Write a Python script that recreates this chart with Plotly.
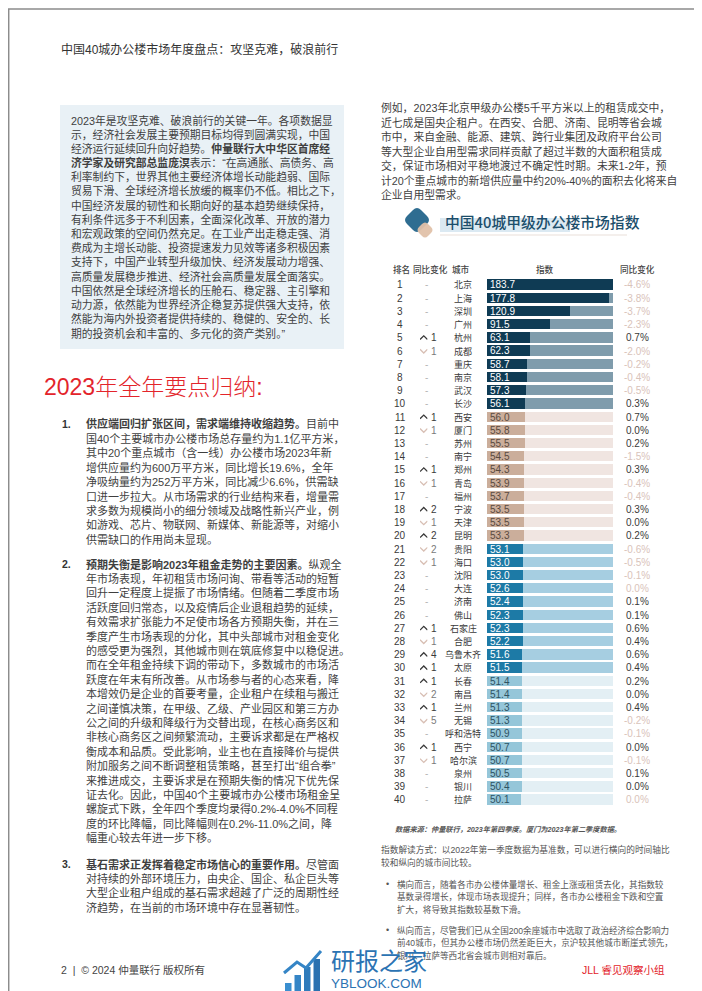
import plotly.graph_objects as go
import math

W, H = 702, 991
FONT = "Liberation Sans, Noto Sans CJK SC, sans-serif"
CJK = "Noto Sans CJK SC, sans-serif"

# ---------------- data ----------------
ranks = list(range(1, 41))
cities = ["北京", "上海", "深圳", "广州", "杭州", "成都", "重庆", "南京", "武汉", "长沙",
          "西安", "厦门", "苏州", "南宁", "郑州", "青岛", "福州", "宁波", "天津", "昆明",
          "贵阳", "海口", "沈阳", "大连", "济南", "佛山", "石家庄", "合肥", "乌鲁木齐", "太原",
          "长春", "南昌", "兰州", "无锡", "呼和浩特", "西宁", "哈尔滨", "泉州", "银川", "拉萨"]
index_values = [183.7, 177.8, 120.9, 91.5, 63.1, 62.3, 58.7, 58.1, 57.3, 56.1,
                56.0, 55.8, 55.5, 54.5, 54.3, 53.9, 53.7, 53.5, 53.5, 53.3,
                53.1, 53.0, 53.0, 52.6, 52.4, 52.3, 52.3, 52.2, 51.6, 51.5,
                51.4, 51.4, 51.3, 51.3, 50.9, 50.7, 50.7, 50.5, 50.4, 50.1]
rank_change = [0, 0, 0, 0, 1, -1, 0, 0, 0, 0,
               1, -1, 0, 0, 1, -1, 0, 2, -1, 2,
               -2, -1, 0, 0, 0, 0, 1, -1, 4, 1,
               1, -2, 1, -5, 0, 1, -1, 0, 0, 0]
yoy_change = [-4.6, -3.8, -3.7, -2.3, 0.7, -2.0, -0.2, -0.4, -0.5, 0.3,
              0.7, 0.0, 0.2, -1.5, 0.3, -0.4, -0.4, 0.3, 0.0, 0.2,
              -0.6, -0.5, -0.1, -0.0, 0.1, 0.1, 0.6, 0.4, 0.6, 0.4,
              0.2, 0.0, 0.4, -0.2, -0.1, 0.0, -0.1, 0.1, 0.0, -0.0]
headers = ["排名", "同比变化", "城市", "指数", "同比变化"]

bar_colors = ["#0f3b54", "#cbae9b", "#1d7aa6", "#95c6d9"]
track_colors = ["#7f9cac", "#f0e5e1", "#a6cee1", "#e3eff4"]
label_colors = ["#ffffff", "#5a4a40", "#ffffff", "#2e5262"]

header_line = "中国40城办公楼市场年度盘点：攻坚克难，破浪前行"
box_lines = [
    "2023年是攻坚克难、破浪前行的关键一年。各项数据显",
    "示，经济社会发展主要预期目标均得到圆满实现，中国",
    "经济运行延续回升向好趋势。<b>仲量联行大中华区首席经</b>",
    "<b>济学家及研究部总监庞溟</b>表示：“在高通胀、高债务、高",
    "利率制约下，世界其他主要经济体增长动能趋弱、国际",
    "贸易下滑、全球经济增长放缓的概率仍不低。相比之下，",
    "中国经济发展的韧性和长期向好的基本趋势继续保持，",
    "有利条件远多于不利因素，全面深化改革、开放的潜力",
    "和宏观政策的空间仍然充足。在工业产出走稳走强、消",
    "费成为主增长动能、投资提速发力见效等诸多积极因素",
    "支持下，中国产业转型升级加快、经济发展动力增强、",
    "高质量发展稳步推进、经济社会高质量发展全面落实。",
    "中国依然是全球经济增长的压舱石、稳定器、主引擎和",
    "动力源，依然能为世界经济企稳复苏提供强大支持，依",
    "然能为海内外投资者提供持续的、稳健的、安全的、长",
    "期的投资机会和丰富的、多元化的资产类别。”",
]
section_title = "2023年全年要点归纳:"
item1 = [
    "<b>供应端回归扩张区间，需求端维持收缩趋势。</b>目前中",
    "国40个主要城市办公楼市场总存量约为1.1亿平方米，",
    "其中20个重点城市（含一线）办公楼市场2023年新",
    "增供应量约为600万平方米，同比增长19.6%，全年",
    "净吸纳量约为252万平方米，同比减少6.6%，供需缺",
    "口进一步拉大。从市场需求的行业结构来看，增量需",
    "求多数为规模尚小的细分领域及战略性新兴产业，例",
    "如游戏、芯片、物联网、新媒体、新能源等，对缩小",
    "供需缺口的作用尚未显现。",
]
item2 = [
    "<b>预期失衡是影响2023年租金走势的主要因素。</b>纵观全",
    "年市场表现，年初租赁市场问询、带看等活动的短暂",
    "回升一定程度上提振了市场情绪。但随着二季度市场",
    "活跃度回归常态，以及疫情后企业退租趋势的延续，",
    "有效需求扩张能力不足使市场各方预期失衡，并在三",
    "季度产生市场表现的分化，其中头部城市对租金变化",
    "的感受更为强烈，其他城市则在筑底修复中以稳促进。",
    "而在全年租金持续下调的带动下，多数城市的市场活",
    "跃度在年末有所改善。从市场参与者的心态来看，降",
    "本增效仍是企业的首要考量，企业租户在续租与搬迁",
    "之间谨慎决策，在甲级、乙级、产业园区和第三方办",
    "公之间的升级和降级行为交替出现，在核心商务区和",
    "非核心商务区之间频繁流动，主要诉求都是在严格权",
    "衡成本和品质。受此影响，业主也在直接降价与提供",
    "附加服务之间不断调整租赁策略，甚至打出“组合拳”",
    "来推进成交，主要诉求是在预期失衡的情况下优先保",
    "证去化。因此，中国40个主要城市办公楼市场租金呈",
    "螺旋式下跌，全年四个季度均录得0.2%-4.0%不同程",
    "度的环比降幅，同比降幅则在0.2%-11.0%之间，降",
    "幅重心较去年进一步下移。",
]
item3 = [
    "<b>基石需求正发挥着稳定市场信心的重要作用。</b>尽管面",
    "对持续的外部环境压力，由央企、国企、私企巨头等",
    "大型企业租户组成的基石需求超越了广泛的周期性经",
    "济趋势，在当前的市场环境中存在显著韧性。",
]
right_lines = [
    "例如，2023年北京甲级办公楼5千平方米以上的租赁成交中，",
    "近七成是国央企租户。在西安、合肥、济南、昆明等省会城",
    "市中，来自金融、能源、建筑、跨行业集团及政府平台公司",
    "等大型企业自用型需求同样贡献了超过半数的大面积租赁成",
    "交，保证市场相对平稳地渡过不确定性时期。未来1-2年，预",
    "计20个重点城市的新增供应量中约20%-40%的面积去化将来自",
    "企业自用型需求。",
]
chart_title = "中国40城甲级办公楼市场指数"
source_note = "数据来源：仲量联行，2023年第四季度。厦门为2023年第二季度数据。"
note_lines = [
    "指数解读方式：以2022年第一季度数据为基准数，可以进行横向的时间轴比",
    "较和纵向的城市间比较。",
]
bullet1 = [
    "横向而言，随着各市办公楼体量增长、租金上涨或租赁去化，其指数较",
    "基数录得增长，体现市场表现提升；同样，各市办公楼租金下跌和空置",
    "扩大，将导致其指数较基数下滑。",
]
bullet2 = [
    "纵向而言，尽管我们已从全国200余座城市中选取了政治经济综合影响力",
    "前40城市，但其办公楼市场仍然差距巨大，京沪较其他城市断崖式领先，",
    "银川、拉萨等西北省会城市则相对靠后。",
]
footer_left = "2  |  © 2024 仲量联行 版权所有"
footer_right = "JLL 睿见观察小组"
watermark_cn = "研报之家"
watermark_en = "YBLOOK.COM"

# ---------------- helpers ----------------
def px(x):
    return x / W


def py(y):
    return 1 - y / H


annotations = []
shapes = []


def txt(x, y, s, size=11, color="#3d3d3d", anchor="left", family=FONT, weight=None):
    f = dict(size=size, color=color, family=family)
    if weight is not None:
        f["weight"] = weight
    annotations.append(dict(x=px(x), y=py(y), xref="paper", yref="paper", text=s,
                            showarrow=False, xanchor=anchor, yanchor="middle",
                            borderpad=0, font=f))


def rect(x0, y0, x1, y1, fill):
    shapes.append(dict(type="rect", xref="paper", yref="paper", x0=px(x0), x1=px(x1),
                       y0=py(y1), y1=py(y0), fillcolor=fill,
                       line=dict(width=0), layer="below"))


def rounded_diamond(cx, cy, r, c, fill, opacity=1.0):
    pts = [(cx, cy - r), (cx + r, cy), (cx, cy + r), (cx - r, cy)]
    path = ""
    n = len(pts)
    for i in range(n):
        p0, p1, p2 = pts[i - 1], pts[i], pts[(i + 1) % n]
        a = (p1[0] + (p0[0] - p1[0]) * c / r, p1[1] + (p0[1] - p1[1]) * c / r)
        b = (p1[0] + (p2[0] - p1[0]) * c / r, p1[1] + (p2[1] - p1[1]) * c / r)
        path += ("M" if i == 0 else "L") + f" {px(a[0])} {py(a[1])} "
        path += f"Q {px(p1[0])} {py(p1[1])} {px(b[0])} {py(b[1])} "
    path += "Z"
    shapes.append(dict(type="path", xref="paper", yref="paper", path=path,
                       fillcolor=fill, line=dict(width=0), opacity=opacity))


# ---------------- table chart ----------------
tier = [(r - 1) // 10 for r in ranks]
max_v = max(index_values)

fig = go.Figure()
fig.add_trace(go.Bar(
    y=ranks, x=[max_v] * len(ranks), orientation="h", width=0.78,
    marker=dict(color=[track_colors[t] for t in tier], line=dict(width=0)),
    hoverinfo="skip"))
fig.add_trace(go.Bar(
    y=ranks, x=index_values, orientation="h", width=0.78,
    marker=dict(color=[bar_colors[t] for t in tier], line=dict(width=0)),
    text=[f"{v:.1f}" for v in index_values], textposition="inside",
    insidetextanchor="start", textangle=0, constraintext="none",
    textfont=dict(size=10, color=[label_colors[t] for t in tier], family=FONT),
    hoverinfo="skip"))

# rank-change chevrons drawn on their own small x axis, sharing the row axis
up_x, up_y, dn_x, dn_y = [], [], [], []
for r, ch in zip(ranks, rank_change):
    if ch > 0:
        up_x += [0, 0.5, 1, None]
        up_y += [r + 0.13, r - 0.15, r + 0.13, None]
    elif ch < 0:
        dn_x += [0, 0.5, 1, None]
        dn_y += [r - 0.13, r + 0.15, r - 0.13, None]
fig.add_trace(go.Scatter(x=up_x, y=up_y, xaxis="x2", yaxis="y", mode="lines",
                         line=dict(color="#3a3a3a", width=1.3), hoverinfo="skip"))
fig.add_trace(go.Scatter(x=dn_x, y=dn_y, xaxis="x2", yaxis="y", mode="lines",
                         line=dict(color="#d8bfb4", width=1.3), hoverinfo="skip"))

row_top, row_bottom = 277.0, 792.0
step = (row_bottom - row_top) / (len(ranks) - 1)
dom_top = row_top - step / 2
dom_bottom = row_bottom + step / 2

col_rank, col_change, col_city, col_yoy = 392, 418, 455, 629

for r, c, ch, yo in zip(ranks, cities, rank_change, yoy_change):
    base = dict(xref="paper", yref="y", y=r, showarrow=False, yanchor="middle", borderpad=0)
    annotations.append(dict(base, x=px(col_rank), xanchor="center", text=str(r),
                            font=dict(size=10, color="#3a3a3a", family=FONT)))
    if ch != 0:
        up = ch > 0
        annotations.append(dict(base, x=px(422), xanchor="left", text=str(abs(ch)),
                                font=dict(size=10, color="#3a3a3a" if up else "#7a7a7a", family=FONT)))
    else:
        annotations.append(dict(base, x=px(col_change), xanchor="center", text="-",
                                font=dict(size=10, color="#b5b5b5", family=FONT)))
    annotations.append(dict(base, x=px(col_city), xanchor="center", text=c,
                            font=dict(size=9, color="#3a3a3a", family=CJK)))
    neg = math.copysign(1, yo) < 0
    annotations.append(dict(base, x=px(col_yoy), xanchor="center", text=f"{yo + 0.0:.1f}%",
                            font=dict(size=10, color="#d9c3ba" if neg else "#3a3a3a", family=FONT)))

header_x = [393, 422, 453, 537, 629]
for hx, h in zip(header_x, headers):
    txt(hx, 261, h, size=8.6, color="#444444", anchor="center", family=CJK, weight=500)

# chart title and icon
rect(432, 210, 562, 224, "#dbe9f2")
shapes.append(dict(type="line", xref="paper", yref="paper", x0=px(432), x1=px(619),
                   y0=py(227), y1=py(227), line=dict(color="#eadfd9", width=1.2)))
rounded_diamond(409, 212, 14, 4, "#2f6d91")
rounded_diamond(417, 222, 9, 3, "#e0c1a9", opacity=0.95)
txt(436, 214, chart_title, size=14.8, color="#1c4e6b", family=CJK, weight=500)
txt(386, 821, f"<i><b>{source_note}</b></i>", size=7.2, color="#555555", family=FONT)

# ---------------- page text ----------------
txt(52, 42, header_line, size=12, color="#333333")

rect(52, 97, 336, 341, "#e9f1f6")
for i, s in enumerate(box_lines):
    txt(62, 112 + i * 14.2, s, size=10.8, color="#3f3f3f")

for i, s in enumerate(right_lines):
    txt(372, 100 + i * 14.5, s, size=10.8, color="#3f3f3f")

txt(35, 379, section_title, size=23, color="#e3242b", weight=300)

for n, (items, y0) in enumerate([(item1, 416), (item2, 556), (item3, 856)], start=1):
    txt(53, y0, f"<b>{n}.</b>", size=10.5, color="#333333")
    for i, s in enumerate(items):
        txt(77, y0 + i * 14.4, s, size=11, color="#3f3f3f")

for i, s in enumerate(note_lines):
    txt(372, 841 + i * 13, s, size=8.7, color="#555555")
for lines, y0 in [(bullet1, 876), (bullet2, 922)]:
    txt(377, y0, "•", size=9, color="#555555")
    for i, s in enumerate(lines):
        txt(388, y0 + i * 12.8, s, size=8.6, color="#555555")

txt(52, 962, footer_left, size=10.5, color="#444444")
txt(573, 962, footer_right, size=10.5, color="#e3242b")

# watermark
for i, (h, c) in enumerate(zip([14, 22, 30, 38], ["#3a8fd0", "#3585c6", "#2f7bbb", "#2a71b0"])):
    rect(277 + i * 9.5, 989 - h, 283.5 + i * 9.5, 989, c)
shapes.append(dict(type="path", xref="paper", yref="paper",
                   path=f"M {px(276)} {py(965)} L {px(289)} {py(954)} L {px(298)} {py(960)} L {px(313)} {py(943)}",
                   line=dict(color="#3585c6", width=3)))
txt(322, 951, watermark_cn, size=24, color="#2b73b3", family=CJK)
txt(322, 975, watermark_en, size=13.5, color="#2b73b3")

# page border
shapes.append(dict(type="rect", xref="paper", yref="paper", x0=0.001, x1=0.999, y0=0.001, y1=0.999,
                   line=dict(color="#8c8c8c", width=1.5), fillcolor="rgba(0,0,0,0)"))

fig.update_layout(
    width=W, height=H, margin=dict(l=0, r=0, t=0, b=0),
    paper_bgcolor="white", plot_bgcolor="white",
    barmode="overlay", showlegend=False, bargap=0,
    font=dict(family=FONT, color="#3f3f3f"),
    xaxis=dict(domain=[px(479), px(605)], range=[0, max_v], visible=False, fixedrange=True),
    xaxis2=dict(domain=[px(412), px(419.5)], range=[0, 1], visible=False, fixedrange=True,
                anchor="y"),
    yaxis=dict(domain=[py(dom_bottom), py(dom_top)], range=[len(ranks) + 0.5, 0.5],
               visible=False, fixedrange=True),
    annotations=annotations, shapes=shapes,
)

fig.write_html("out.html")
